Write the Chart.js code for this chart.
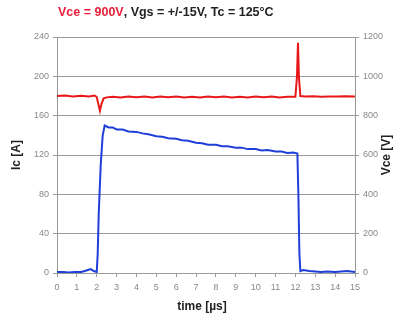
<!DOCTYPE html>
<html lang="en">
<head>
  <meta charset="UTF-8">
  <title>Ic / Vce turn-on and turn-off</title>
  <script src="https://cdn.jsdelivr.net/npm/chart.js"></script>
  <style>
    body {
      margin: 0;
      background-color: #fff;
      font-family: "Liberation Sans", Arial, sans-serif;
    }
    #wrap {
      position: relative;
      width: 403px;
      height: 320px;
    }
  </style>
</head>
<body>
  <div id="wrap">
    <canvas id="waveChart" width="403" height="320"></canvas>
  </div>

  <script>
    // collector current
    const icTime = [0, 0.3, 0.6, 0.9, 1.2, 1.4, 1.55, 1.7, 1.85, 2.0, 2.05, 2.1, 2.2, 2.3, 2.4,
      2.6, 2.8, 3.0, 3.3, 3.6, 4.0, 4.3, 4.6, 5.0, 5.3, 5.6, 6.0, 6.3, 6.6, 7.0, 7.3, 7.6,
      8.0, 8.3, 8.6, 9.0, 9.3, 9.6, 10.0, 10.3, 10.6, 11.0, 11.3, 11.6, 11.9, 12.1,
      12.15, 12.2, 12.25, 12.4, 12.7, 13.0, 13.3, 13.6, 14.0, 14.3, 14.6, 15.0];
    const icValues = [1, 1, 0.5, 1, 1, 2, 3, 4, 2, 1, 20, 60, 110, 140, 150,
      148, 148, 146, 146, 144, 143.5, 142, 141, 139, 138.5, 137, 136.5, 135, 134.5, 132.5, 132, 130.5,
      130.5, 129, 129, 127.5, 127.5, 126, 126, 124.5, 125, 123.5, 123.5, 122, 122.5, 121.5,
      80, 20, 2, 3, 2, 1.5, 1, 1.5, 1, 1.5, 2, 1];

    // collector-emitter voltage
    const vceTime = [0, 0.4, 0.8, 1.2, 1.6, 1.9, 2.0, 2.08, 2.16, 2.24, 2.35, 2.5, 2.8, 3.2,
      3.6, 4.0, 4.4, 4.8, 5.2, 5.6, 6.0, 6.4, 6.8, 7.2, 7.6, 8.0, 8.4, 8.8, 9.2, 9.6, 10.0,
      10.4, 10.8, 11.2, 11.6, 12.0, 12.08, 12.13, 12.18, 12.25, 12.5, 12.9, 13.3, 13.7,
      14.1, 14.5, 15.0];
    const vceValues = [900, 902, 898, 901, 897, 902, 895, 860, 825, 860, 888, 893, 896, 892,
      897, 894, 898, 893, 897, 894, 898, 892, 896, 893, 898, 894, 897, 892, 896, 893, 898,
      894, 897, 893, 896, 896, 1000, 1170, 990, 900, 897, 899, 896, 898,
      897, 899, 898];

    const timeTicks = [0, 1, 2, 3, 4, 5, 6, 7, 8, 9, 10, 11, 12, 13, 14, 15];
    const icTicks = [0, 40, 80, 120, 160, 200, 240];
    const vceTicks = [0, 200, 400, 600, 800, 1000, 1200];

    const icPoints = icTime.map((t, i) => ({ x: t, y: icValues[i] }));
    const vcePoints = vceTime.map((t, i) => ({ x: t, y: vceValues[i] }));

    const tickFont = { family: "'Liberation Sans', Arial, sans-serif", size: 9 };
    const plain = v => String(v);

    // heading and axis titles, drawn by hand so the right title reads bottom-up like the left one
    const labelsPlugin = {
      id: 'labels',
      afterDraw(chart) {
        const c = chart.ctx;
        const area = chart.chartArea;
        const midY = (area.top + area.bottom) / 2;
        c.save();
        c.textBaseline = 'middle';

        c.font = "bold 12.5px 'Liberation Sans', Arial, sans-serif";
        const first = 'Vce = 900V';
        const rest = ', Vgs = +/-15V, Tc = 125°C';
        let x = 58;
        c.fillStyle = '#e8203a';
        c.fillText(first, x, 13);
        x += c.measureText(first).width;
        c.fillStyle = '#222';
        c.fillText(rest, x, 13);

        c.font = "bold 12px 'Liberation Sans', Arial, sans-serif";
        c.textAlign = 'center';
        c.fillText('time [µs]', 202, 307);

        c.save();
        c.translate(17, midY);
        c.rotate(-Math.PI / 2);
        c.fillText('Ic [A]', 0, 0);
        c.restore();

        c.save();
        c.translate(387, midY);
        c.rotate(-Math.PI / 2);
        c.fillText('Vce [V]', 0, 0);
        c.restore();

        c.restore();
      }
    };

    const ctx = document.getElementById('waveChart').getContext('2d');
    new Chart(ctx, {
      type: 'line',
      data: {
        datasets: [{
          label: 'Vce',
          data: vcePoints,
          yAxisID: 'y1',
          borderColor: '#e81818',
          borderWidth: 2,
          pointRadius: 0,
          tension: 0
        }, {
          label: 'Ic',
          data: icPoints,
          yAxisID: 'y',
          borderColor: '#1f3fd8',
          borderWidth: 2,
          pointRadius: 0,
          tension: 0
        }]
      },
      options: {
        responsive: false,
        animation: false,
        layout: { padding: { top: 37, left: 0, right: 0, bottom: 0 } },
        plugins: {
          legend: { display: false },
          tooltip: { enabled: false }
        },
        scales: {
          x: {
            type: 'linear',
            min: 0,
            max: 15,
            afterBuildTicks: s => { s.ticks = timeTicks.map(v => ({ value: v })); },
            ticks: { color: '#888', font: tickFont, padding: 5, maxRotation: 0, autoSkip: false, callback: plain },
            grid: { drawOnChartArea: false, tickLength: 4, color: '#999' },
            border: { color: '#999' },
            afterFit: s => { s.height = 47; }
          },
          y: {
            position: 'left',
            min: 0,
            max: 240,
            afterBuildTicks: s => { s.ticks = icTicks.map(v => ({ value: v })); },
            ticks: { color: '#888', font: tickFont, padding: 4, callback: plain },
            grid: { color: '#999', tickLength: 4 },
            border: { color: '#999' },
            afterFit: s => { s.width = 57; }
          },
          y1: {
            position: 'right',
            min: 0,
            max: 1200,
            afterBuildTicks: s => { s.ticks = vceTicks.map(v => ({ value: v })); },
            ticks: { color: '#888', font: tickFont, padding: 4, callback: plain },
            grid: { drawOnChartArea: false, tickLength: 4, color: '#999' },
            border: { color: '#999' },
            afterFit: s => { s.width = 48; }
          }
        }
      },
      plugins: [labelsPlugin]
    });
  </script>
</body>
</html>
